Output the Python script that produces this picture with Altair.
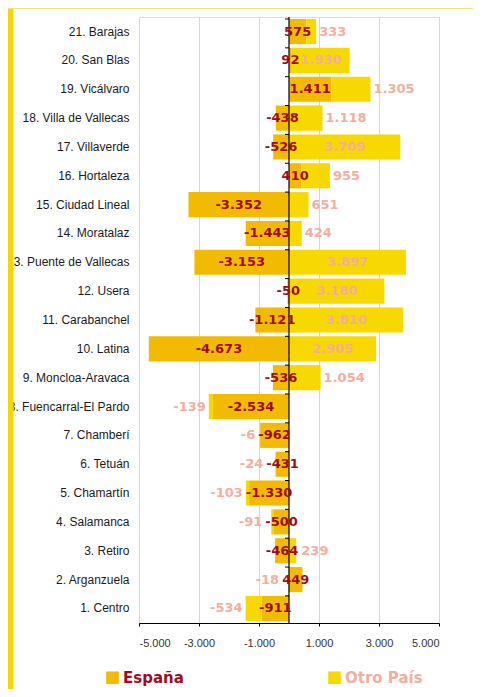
import altair as alt
import pandas as pd

# ---------------- data ----------------
districts = [
    "1. Centro", "2. Arganzuela", "3. Retiro", "4. Salamanca", "5. Chamartín",
    "6. Tetuán", "7. Chamberí", "8. Fuencarral-El Pardo", "9. Moncloa-Aravaca",
    "10. Latina", "11. Carabanchel", "12. Usera", "13.  Puente de Vallecas",
    "14. Moratalaz", "15. Ciudad Lineal", "16. Hortaleza", "17.  Villaverde",
    "18. Villa de Vallecas", "19. Vicálvaro", "20. San Blas", "21. Barajas",
]
espana = [-911, 449, -464, -500, -1330, -431, -962, -2534, -536, -4673,
          -1121, -50, -3153, -1443, -3352, 410, -526, -438, 1411, 92, 575]
otro = [-534, -18, 239, -91, -103, -24, -6, -139, 1054, 2905,
        3810, 3180, 3897, 424, 651, 955, 3709, 1118, 1305, 1930, 333]
series = ["España", "Otro País"]
x_ticks = [-5000, -3000, -1000, 1000, 3000, 5000]

# ---------------- layout / style ----------------
W, H = 300, 606
XMIN, XMAX = -5000, 5000
PAD_IN, PAD_OUT = 0.13, 0.07
PPU = W / (XMAX - XMIN)           # pixels per unit

C_ESP, C_OTRO = "#F2BA00", "#F7D800"
T_ESP, T_OTRO = "#9E0B1E", "#F3AE9E"
LBL_FONT, LBL_SIZE = "DejaVu Sans", 13

order_top = list(reversed(districts))


def fmt(v):
    s = f"{abs(v):,}".replace(",", ".")
    return ("-" if v < 0 else "") + s


def text_w(s, size=LBL_SIZE):
    w = {"-": 0.415, ".": 0.38}
    return sum(w.get(ch, 0.696) for ch in s) * size


# long table for bars
bars = pd.DataFrame(
    [{"district": d, "serie": series[0], "value": e, "ord": 0} for d, e in zip(districts, espana)]
    + [{"district": d, "serie": series[1], "value": o, "ord": 1} for d, o in zip(districts, otro)]
)

# label anchors, derived from the values (centre of bar, or just outside when it does not fit)
esp_rows, otro_rows = [], []
for d, e, o in zip(districts, espana, otro):
    te, to = fmt(e), fmt(o)
    we, wo = text_w(te), text_w(to)
    esp_c = e / 2
    esp_rows.append({"district": d, "txt": te, "lx": esp_c})
    esp_l = esp_c * PPU - we / 2
    esp_r = esp_c * PPU + we / 2
    if (o >= 0) == (e >= 0):
        o0, o1 = e, e + o
    else:
        o0, o1 = 0, o
    if abs(o) * PPU >= wo + 6:
        otro_rows.append({"district": d, "txt": to, "lx": (o0 + o1) / 2, "al": "center"})
    elif o > 0:
        px = max(o1 * PPU, esp_r) + 3
        otro_rows.append({"district": d, "txt": to, "lx": px / PPU, "al": "left"})
    else:
        px = min(o1 * PPU, esp_l) - 3
        otro_rows.append({"district": d, "txt": to, "lx": px / PPU, "al": "right"})
lab_esp = pd.DataFrame(esp_rows)
lab_otro = pd.DataFrame(otro_rows)
dist_df = pd.DataFrame({"district": districts})

xscale = alt.Scale(domain=[XMIN, XMAX], nice=False, zero=False)
yscale = alt.Scale(paddingInner=PAD_IN, paddingOuter=PAD_OUT)

xaxis = alt.Axis(
    title=None, values=x_ticks,
    labelExpr="(datum.value < 0 ? '-' : '') + replace(format(abs(datum.value), ','), ',', '.')",
    grid=True, gridColor="#D6D6D6", gridWidth=1,
    domain=True, domainColor="black", domainWidth=1,
    ticks=True, tickColor="black", tickSize=3,
    labelFont="Liberation Sans", labelFontSize=11, labelColor="#333333", labelPadding=11,
)
yaxis = alt.Axis(
    title=None, domain=False, ticks=False, grid=False, labelPadding=10,
    labelFont="Liberation Sans", labelFontSize=12, labelColor="#1A1A1A", labelLimit=300,
)

Y = alt.Y("district:N", sort=order_top, scale=yscale, axis=yaxis)
Yn = alt.Y("district:N", sort=order_top, scale=yscale, title=None)

bar_layer = alt.Chart(bars).mark_bar().encode(
    x=alt.X("value:Q", stack="zero", scale=xscale, axis=xaxis),
    y=Y,
    color=alt.Color(
        "serie:N",
        scale=alt.Scale(domain=series, range=[C_ESP, C_OTRO]),
        legend=alt.Legend(
            title=None, orient="none", legendX=-34, legendY=653,
            direction="horizontal", symbolType="square", symbolSize=159,
            symbolStrokeWidth=0, labelFont="DejaVu Sans", labelFontWeight="bold",
            labelFontSize=15, labelOffset=3, columnPadding=143,
            labelColor={"expr": f"datum.label === '{series[0]}' ? '{T_ESP}' : '{T_OTRO}'"},
        ),
    ),
    order=alt.Order("ord:Q", sort="ascending"),
)

zero_rule = alt.Chart(dist_df.head(1)).mark_rule(color="black", strokeWidth=1.2).encode(
    x=alt.datum(0)
)

cat_ticks = alt.Chart(dist_df).mark_rule(color="black", strokeWidth=1).encode(
    y=alt.Y("district:N", sort=order_top, scale=yscale, title=None, bandPosition=0),
    x=alt.datum(0),
    x2=alt.datum(-4 / PPU),
)


def otro_layer(al):
    return alt.Chart(lab_otro).transform_filter(alt.datum.al == al).mark_text(
        font=LBL_FONT, fontWeight="bold", fontSize=LBL_SIZE, color=T_OTRO,
        align=al, baseline="middle",
    ).encode(x=alt.X("lx:Q", scale=xscale, title=None), y=Yn, text="txt:N")


esp_text = alt.Chart(lab_esp).mark_text(
    font=LBL_FONT, fontWeight="bold", fontSize=LBL_SIZE, color=T_ESP,
    align="center", baseline="middle",
).encode(x=alt.X("lx:Q", scale=xscale, title=None), y=Yn, text="txt:N")

# decorative frame pieces (left yellow band, thin top line)
left_band = alt.Chart(dist_df.head(1)).mark_rule(color="#F7D500", strokeWidth=6).encode(
    x=alt.value(-128.5), y=alt.value(-9), y2=alt.value(672)
)
top_line = alt.Chart(dist_df.head(1)).mark_rule(color="#F2E27E", strokeWidth=1).encode(
    x=alt.value(-131), x2=alt.value(334), y=alt.value(-8.5)
)

chart = alt.layer(
    bar_layer, zero_rule, cat_ticks,
    otro_layer("center"), otro_layer("left"), otro_layer("right"),
    esp_text, left_band, top_line,
).properties(
    width=W, height=H,
    autosize=alt.AutoSizeParams(type="none"),
    padding={"left": 131, "top": 9, "right": 34, "bottom": 66},
).configure_view(strokeWidth=0).configure(background="white")

chart.save("out.html", embed_options={"renderer": "svg", "actions": False})
